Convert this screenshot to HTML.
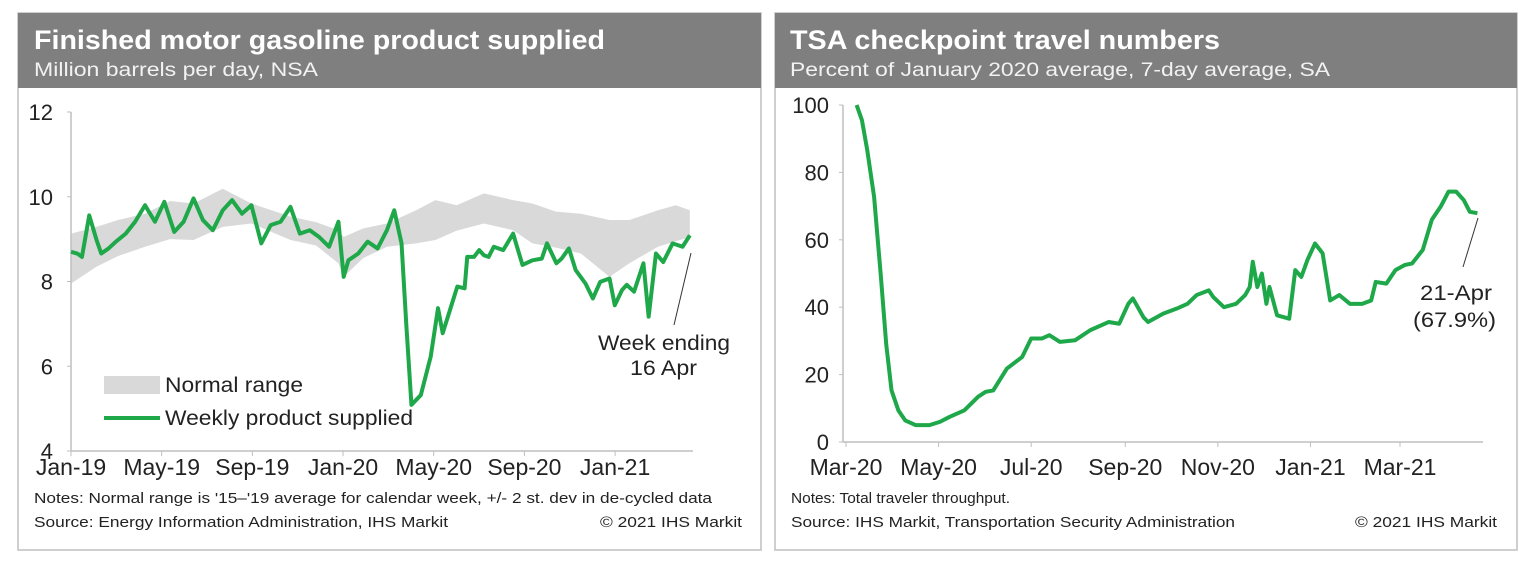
<!DOCTYPE html>
<html><head><meta charset="utf-8"><style>
body{margin:0;background:#fff;width:1529px;height:563px;overflow:hidden;font-family:"Liberation Sans",Arial,sans-serif}
svg{position:absolute;left:0;top:0}
</style></head><body>
<svg id="s" width="1529" height="563" font-family="Liberation Sans, Arial, sans-serif">
<g>
<rect x="18" y="13" width="743" height="537" fill="#fff" stroke="#bfbfbf" stroke-width="1.5"/>
<rect x="18" y="13" width="743" height="75" fill="#7f7f7f"/>
<text x="34" y="49" fill="#fff" font-size="27" font-weight="bold" textLength="571" lengthAdjust="spacingAndGlyphs">Finished motor gasoline product supplied</text>
<text x="34" y="76" fill="#f2f2f2" font-size="19" textLength="284" lengthAdjust="spacingAndGlyphs">Million barrels per day, NSA</text>
<g id="L"></g>
<rect x="104" y="376" width="56" height="18" fill="#d9d9d9"/>
<text x="165" y="392" font-size="21" fill="#222" textLength="138" lengthAdjust="spacingAndGlyphs">Normal range</text>
<line x1="104" y1="418" x2="160" y2="418" stroke="#1ea84a" stroke-width="4"/>
<text x="165" y="425" font-size="21" fill="#222" textLength="248" lengthAdjust="spacingAndGlyphs">Weekly product supplied</text>
<line x1="691" y1="253" x2="674" y2="325" stroke="#333" stroke-width="1"/>
<text x="598" y="350" font-size="21" fill="#222" textLength="132" lengthAdjust="spacingAndGlyphs">Week ending</text>
<text x="630" y="375" font-size="21" fill="#222" textLength="67" lengthAdjust="spacingAndGlyphs">16 Apr</text>
<text x="34" y="503" font-size="15" fill="#222" textLength="678" lengthAdjust="spacingAndGlyphs">Notes: Normal range is '15–'19 average for calendar week, +/- 2 st. dev in de-cycled data</text>
<text x="34" y="527" font-size="15" fill="#222" textLength="414" lengthAdjust="spacingAndGlyphs">Source: Energy Information Administration, IHS Markit</text>
<text x="600" y="527" font-size="15" fill="#222" textLength="142" lengthAdjust="spacingAndGlyphs">© 2021 IHS Markit</text>
</g>
<g>
<rect x="775" y="13" width="742" height="537" fill="#fff" stroke="#bfbfbf" stroke-width="1.5"/>
<rect x="775" y="13" width="742" height="75" fill="#7f7f7f"/>
<text x="790" y="49" fill="#fff" font-size="27" font-weight="bold" textLength="430" lengthAdjust="spacingAndGlyphs">TSA checkpoint travel numbers</text>
<text x="790" y="76" fill="#f2f2f2" font-size="19" textLength="540" lengthAdjust="spacingAndGlyphs">Percent of January 2020 average, 7-day average, SA</text>
<g id="R"></g>
<line x1="1478" y1="218" x2="1463" y2="267" stroke="#333" stroke-width="1"/>
<text x="1420" y="300" font-size="21" fill="#222" textLength="72" lengthAdjust="spacingAndGlyphs">21-Apr</text>
<text x="1413" y="327" font-size="21" fill="#222" textLength="83" lengthAdjust="spacingAndGlyphs">(67.9%)</text>
<text x="791" y="503" font-size="15" fill="#222" textLength="219" lengthAdjust="spacingAndGlyphs">Notes: Total traveler throughput.</text>
<text x="791" y="527" font-size="15" fill="#222" textLength="444" lengthAdjust="spacingAndGlyphs">Source: IHS Markit, Transportation Security Administration</text>
<text x="1355" y="527" font-size="15" fill="#222" textLength="142" lengthAdjust="spacingAndGlyphs">© 2021 IHS Markit</text>
</g>
</svg>
<script>
// Left chart data (weeks since first week of Jan-2019)
const gasWeeks=[0,1.2,2.1,3.5,4.9,5.8,7.2,8.6,10.5,12.3,14.2,16.1,17.9,19.8,21.6,23.5,25.3,27.2,29.1,30.9,32.8,34.6,36.5,38.3,40.2,42.1,43.9,45.8,47.6,49.5,51.3,52.3,53.2,55.1,56.9,58.8,60.6,62.0,63.4,64.3,65.3,67.1,69.0,70.4,71.3,72.7,74.1,75.5,76.0,77.3,78.3,79.2,80.1,81.1,82.9,84.8,86.6,88.5,90.3,91.3,93.1,94.1,95.5,96.8,98.7,100.1,101.5,103.3,104.3,105.7,106.6,108.0,109.8,110.8,112.2,113.6,115.4,117.3,118.7];
const gasValues=[8.70,8.66,8.58,9.56,8.98,8.66,8.78,8.94,9.13,9.41,9.80,9.41,9.88,9.17,9.41,9.96,9.45,9.21,9.68,9.92,9.60,9.80,8.90,9.33,9.41,9.76,9.13,9.21,9.05,8.82,9.41,8.11,8.50,8.66,8.94,8.78,9.21,9.68,8.90,7.01,5.09,5.32,6.23,7.37,6.78,7.33,7.88,7.84,8.58,8.58,8.74,8.62,8.58,8.82,8.74,9.13,8.39,8.50,8.54,8.90,8.43,8.54,8.78,8.27,7.95,7.60,7.99,8.07,7.44,7.80,7.92,7.76,8.43,7.17,8.66,8.46,8.90,8.82,9.09];
const bandWeeks=[0,4.9,9,14.2,19,23.5,29.1,34.6,42.1,47,51.3,52.3,56,60.6,66.2,69.9,74,79.2,84.8,88.5,93,97.8,103.3,107.1,112.6,116,118.7];
const bandUpper=[9.13,9.29,9.45,9.60,9.90,9.84,10.19,9.84,9.53,9.40,9.21,9.05,9.25,9.37,9.68,9.92,9.80,10.08,9.92,9.84,9.65,9.60,9.45,9.45,9.68,9.80,9.68];
const bandLower=[7.95,8.35,8.60,8.82,9.00,8.98,9.29,9.37,8.98,8.85,8.43,8.11,8.55,8.82,8.90,8.98,9.20,9.37,9.21,8.90,8.80,8.66,8.11,8.43,8.82,8.95,9.05];
const leftYTicks=[4,6,8,10,12];
const leftXLabels=["Jan-19","May-19","Sep-19","Jan-20","May-20","Sep-20","Jan-21"];
const leftXMonths=[0,4,8,12,16,20,24];
// Right chart data (days since 1 Mar 2020)
const tsaDays=[7,10.5,14,18.5,23,26.5,30,34.5,39,46,55,62,68,78,87,92,97,106,116,122,129,134,141,151,161,173,180,186,189,196,199,209,218,225,231,239,242,249,257,263,266,268,271,274,277,279,284,292,296,300,304,309,314,319,325,332,340,346,349,356,362,368,373,380,386,392,397,402,407,411,416];
const tsaValues=[100,95.5,86.6,72.8,49,29,15.3,9.4,6.4,5,5,6,7.4,9.4,13.4,14.9,15.3,21.8,25.2,30.7,30.7,31.7,29.7,30.2,33.2,35.6,35.1,41,42.6,37,35.6,38.1,39.6,41,43.6,45,43,40,41,43.6,46,53.5,46,50,41,46,37.6,36.6,51,49,54,58.9,56,42,43.6,41,41,42,47.5,47,51,52.5,53,57,66,70,74.3,74.3,71.8,68.3,67.9];
const rightYTicks=[0,20,40,60,80,100];
const rightXLabels=["Mar-20","May-20","Jul-20","Sep-20","Nov-20","Jan-21","Mar-21"];
const rightXDays=[0,61,122,184,245,306,365];

const NS="http://www.w3.org/2000/svg";
function mk(parent,tag,attrs){const e=document.createElementNS(NS,tag);for(const k in attrs)e.setAttribute(k,attrs[k]);parent.appendChild(e);return e;}

// Left axes
const L=document.getElementById('L');
const lx0=71,lxEnd=693,pxWeek=22.67*12/52.18;
const lxW=w=>lx0+w*pxWeek, lxM=m=>lx0+m*22.67;
const ly=v=>451-(v-4)*(339/8);
let bp=bandWeeks.map((w,i)=>lxW(w)+','+ly(bandUpper[i]));
for(let i=bandWeeks.length-1;i>=0;i--)bp.push(lxW(bandWeeks[i])+','+ly(bandLower[i]));
const band=mk(L,'polygon',{points:bp.join(' '),fill:'#d9d9d9'});


mk(L,'line',{x1:lx0,y1:ly(12),x2:lx0,y2:ly(4),stroke:'#bfbfbf','stroke-width':1.5});
mk(L,'line',{x1:lx0,y1:ly(4),x2:lxEnd,y2:ly(4),stroke:'#bfbfbf','stroke-width':1.5});
leftYTicks.forEach(v=>{
 mk(L,'line',{x1:lx0-4,y1:ly(v),x2:lx0,y2:ly(v),stroke:'#bfbfbf'});
 const t=mk(L,'text',{x:lx0-18,y:ly(v)+8,'font-size':22,fill:'#222','text-anchor':'end'});t.textContent=v;
 
 
});
leftXLabels.forEach((lab,i)=>{
 const x=lxM(leftXMonths[i]);
 mk(L,'line',{x1:x,y1:ly(4),x2:x,y2:ly(4)+5,stroke:'#bfbfbf'});
 const t=mk(L,'text',{x:x,y:475,'font-size':23,fill:'#222','text-anchor':'middle'});t.textContent=lab;
 
 
});
const gl=mk(L,'polyline',{points:gasWeeks.map((w,i)=>lxW(w)+','+ly(gasValues[i])).join(' '),fill:'none',stroke:'#1ea84a','stroke-width':4,'stroke-linejoin':'round'});



// Right axes
const R=document.getElementById('R');
const rx0=843,rxStart=846,rxEnd=1483,pxDay=554/365;
const rx=d=>rxStart+d*pxDay;
const ry=v=>442-v*3.37;
mk(R,'line',{x1:rx0,y1:ry(100),x2:rx0,y2:ry(0),stroke:'#bfbfbf','stroke-width':1.5});
mk(R,'line',{x1:rx0,y1:ry(0),x2:rxEnd,y2:ry(0),stroke:'#bfbfbf','stroke-width':1.5});
rightYTicks.forEach(v=>{
 mk(R,'line',{x1:rx0-4,y1:ry(v),x2:rx0,y2:ry(v),stroke:'#bfbfbf'});
 const t=mk(R,'text',{x:rx0-14,y:ry(v)+8,'font-size':22,fill:'#222','text-anchor':'end'});t.textContent=v;
 
 
});
rightXLabels.forEach((lab,i)=>{
 const x=rx(rightXDays[i]);
 mk(R,'line',{x1:x,y1:ry(0),x2:x,y2:ry(0)+5,stroke:'#bfbfbf'});
 const t=mk(R,'text',{x:x,y:475,'font-size':23,fill:'#222','text-anchor':'middle'});t.textContent=lab;
 
 
});
const tl=mk(R,'polyline',{points:tsaDays.map((d,i)=>rx(d)+','+ry(tsaValues[i])).join(' '),fill:'none',stroke:'#1ea84a','stroke-width':4,'stroke-linejoin':'round'});


</script>
</body></html>
